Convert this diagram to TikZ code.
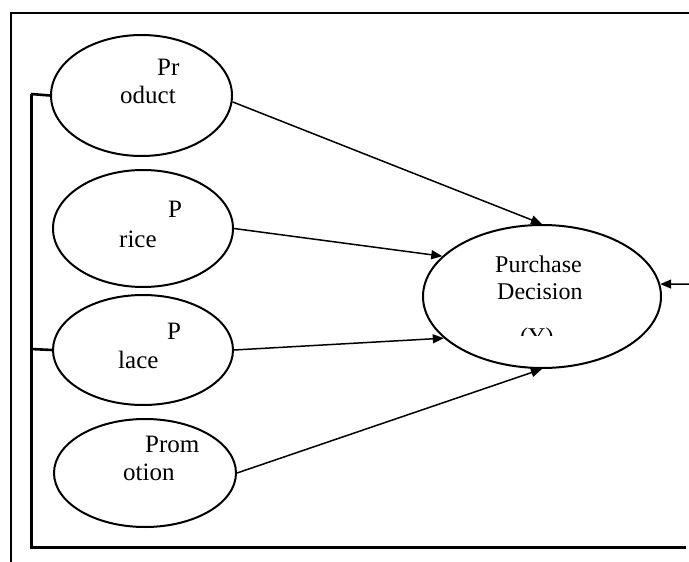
\documentclass[tikz,border=0pt]{standalone}
\usepackage{fontspec}
\setmainfont{Liberation Serif}
\usetikzlibrary{shapes.geometric,arrows.meta}
\begin{document}
\begin{tikzpicture}[x=1pt,y=-1pt,
  var/.style={draw,ellipse,line width=2pt,inner sep=0pt},
  lbl/.style={anchor=base west,inner sep=0pt,font=\fontsize{25}{28}\selectfont},
  arr/.style={line width=1.5pt,-{Triangle[length=11pt,width=9pt]}}]
\useasboundingbox (0,0) rectangle (689,562);
% frame
\draw[line width=2.6pt] (10,13) -- (689,13);
\draw[line width=1.6pt] (11,13) -- (11,562);
% variables
\node[var,minimum width=181,minimum height=121] (prod) at (141.5,95.5) {};
\node[var,minimum width=180,minimum height=117] (price) at (143,228.5) {};
\node[var,minimum width=180,minimum height=110] (place) at (143,350) {};
\node[var,minimum width=182,minimum height=108] (promo) at (145,473) {};
\node[var,minimum width=238,minimum height=143] (pd) at (542,296.5) {};
\node[lbl] (prod1) at (157,75) {Pr};
\node[lbl] (prod2) at (120,103) {oduct};
\node[lbl] (price1) at (168,217) {P};
\node[lbl] (price2) at (119,247) {rice};
\node[lbl] (place1) at (167,339) {P};
\node[lbl] (place2) at (118,368) {lace};
\node[lbl] (promo1) at (145,452) {Prom};
\node[lbl] (promo2) at (123,480) {otion};
\node[lbl,font=\fontsize{24}{28}\selectfont] (pd1) at (495,272) {Purchase};
\node[lbl,font=\fontsize{24}{28}\selectfont] (pd2) at (497,299) {Decision};
\begin{scope}
\clip (500,327) rectangle (590,335);
\node[lbl,font=\fontsize{24}{28}\selectfont] (pd3) at (520,344) {(Y)};
\end{scope}
% bracket
\coordinate (b1) at (31,94);
\coordinate (b2) at (31,349);
\coordinate (b3) at (31,547);
\coordinate (b4) at (686,547);
\draw[line width=3pt] (b1) -- (b3) -- (b4);
\draw[line width=2.6pt] (b1) -- (prod.west);
\draw[line width=2.6pt] (b2) -- (place.west);
% paths
\draw[arr] (prod.-4) -- (pd.north);
\draw[arr] (price.east) -- (pd.158);
\draw[arr] (place.east) -- (pd.203);
\draw[arr] (promo.east) -- (pd.south);
\coordinate (ext) at (689,284);
\draw[arr] (ext) -- (pd.6);
\end{tikzpicture}
\end{document}
